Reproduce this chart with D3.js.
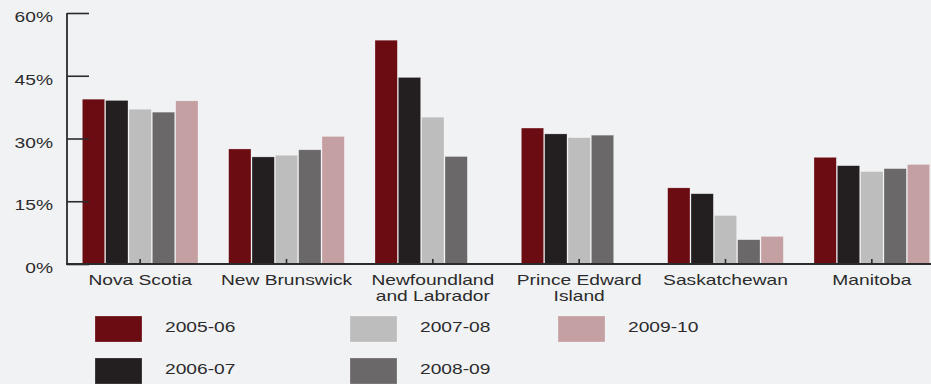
<!DOCTYPE html>
<html>
<head>
<meta charset="utf-8">
<script src="https://cdn.jsdelivr.net/npm/d3@7/dist/d3.min.js"></script>
<style>
  html, body { margin: 0; padding: 0; background: #f1f2f4; }
  svg { display: block; font-family: "Liberation Sans", Arial, sans-serif; }
</style>
</head>
<body>
<svg id="chart" width="931" height="384"></svg>
<script>
// Provinces along the x axis (line breaks with "\n")
const provinces = ["Nova Scotia", "New Brunswick", "Newfoundland\nand Labrador", "Prince Edward\nIsland", "Saskatchewan", "Manitoba"];
const years = ["2005-06", "2006-07", "2007-08", "2008-09", "2009-10"];
const colors = ["#6b0c13", "#231f20", "#bdbdbd", "#6a6869", "#c4a0a2"];

// Percent values per year, in province order (null = not reported)
const v2005 = [39.4, 27.5, 53.5, 32.5, 18.2, 25.5];
const v2006 = [39.1, 25.6, 44.6, 31.1, 16.8, 23.5];
const v2007 = [37.0, 26.0, 35.1, 30.2, 11.6, 22.1];
const v2008 = [36.3, 27.3, 25.7, 30.8, 5.8, 22.8];
const v2009 = [39.0, 30.5, null, null, 6.6, 23.8];
const seriesValues = [v2005, v2006, v2007, v2008, v2009];

const yTicks = [0, 15, 30, 45, 60];

const svg = d3.select("#chart");
const ink = "#2b2b2b";
const stretch = 1.28; // text is set wide

// Places a horizontally widened text at (x, y) with the given anchor
function wideText(parent, x, y, lines, anchor, lineGap) {
  const g = parent.append("g").attr("transform", `translate(${x},${y}) scale(${stretch},1)`);
  const t = g.append("text")
    .attr("text-anchor", anchor)
    .attr("font-size", 15)
    .attr("fill", ink);
  lines.forEach((line, k) => {
    t.append("tspan").attr("x", 0).attr("dy", k === 0 ? 0 : lineGap).text(line);
  });
  return t;
}

const x0 = d3.scaleBand().domain(provinces).range([67, 945]).paddingInner(0).paddingOuter(0);
const x1 = d3.scaleBand().domain(years).range([0, x0.bandwidth()]).paddingInner(0).paddingOuter(0.635);
const y = d3.scaleLinear().domain([0, 60]).range([264, 13]);

// Bars
const groups = svg.append("g").selectAll("g")
  .data(provinces)
  .join("g")
  .attr("transform", d => `translate(${x0(d)},0)`);

groups.selectAll("rect")
  .data((p, i) => years.map((yr, s) => ({ yr, s, v: seriesValues[s][i] })).filter(d => d.v != null))
  .join("rect")
  .attr("x", d => x1(d.yr) + 0.5)
  .attr("width", x1.bandwidth() - 1)
  .attr("y", d => y(d.v))
  .attr("height", d => y(0) - y(d.v))
  .attr("fill", d => colors[d.s])
  .attr("stroke", "#ffffff")
  .attr("stroke-opacity", 0.45)
  .attr("stroke-width", 0.6);

// Y axis: line with ticks pointing into the plot
const yAxis = d3.axisRight(y).tickValues(yTicks).tickSize(22).tickFormat("");
const yg = svg.append("g").attr("transform", "translate(67,0)").call(yAxis);
yg.select(".domain").attr("stroke", ink).attr("stroke-width", 1.8).attr("d", `M0,${y(60)}V${y(0)}`);
yg.selectAll(".tick line").attr("stroke", ink).attr("stroke-width", 1.6);

// Y tick labels, sitting slightly below their tick
const yLabels = svg.append("g");
yTicks.forEach(t => wideText(yLabels, 53, y(t) + 9, [t + "%"], "end", 0));

// X axis baseline with short upward ticks at each province
const xAxis = d3.axisBottom(x0).tickSize(-5).tickFormat("");
const xg = svg.append("g").attr("transform", `translate(0,${y(0)})`).call(xAxis);
xg.select(".domain").attr("stroke", ink).attr("stroke-width", 1.8).attr("d", `M66,0H931`);
xg.selectAll(".tick line").attr("stroke", ink).attr("stroke-width", 1.6);

// Province labels
const labels = svg.append("g");
provinces.forEach(p => {
  wideText(labels, x0(p) + x0.bandwidth() / 2, 285, p.split("\n"), "middle", 16.5);
});

// Legend: two rows, three columns
const legendCols = [95, 350, 558];
const legendRows = [316, 358];
const legendOrder = [[0, 0], [1, 0], [0, 1], [1, 1], [0, 2]]; // [row, col] per year
const legend = svg.append("g");
years.forEach((yr, s) => {
  const [r, c] = legendOrder[s];
  const lx = legendCols[c];
  const ly = legendRows[r];
  legend.append("rect")
    .attr("x", lx).attr("y", ly)
    .attr("width", 47).attr("height", 26)
    .attr("fill", colors[s])
    .attr("stroke", "#ffffff").attr("stroke-opacity", 0.4).attr("stroke-width", 0.6);
  wideText(legend, lx + 70, ly + 16, [yr], "start", 0);
});
</script>
</body>
</html>
